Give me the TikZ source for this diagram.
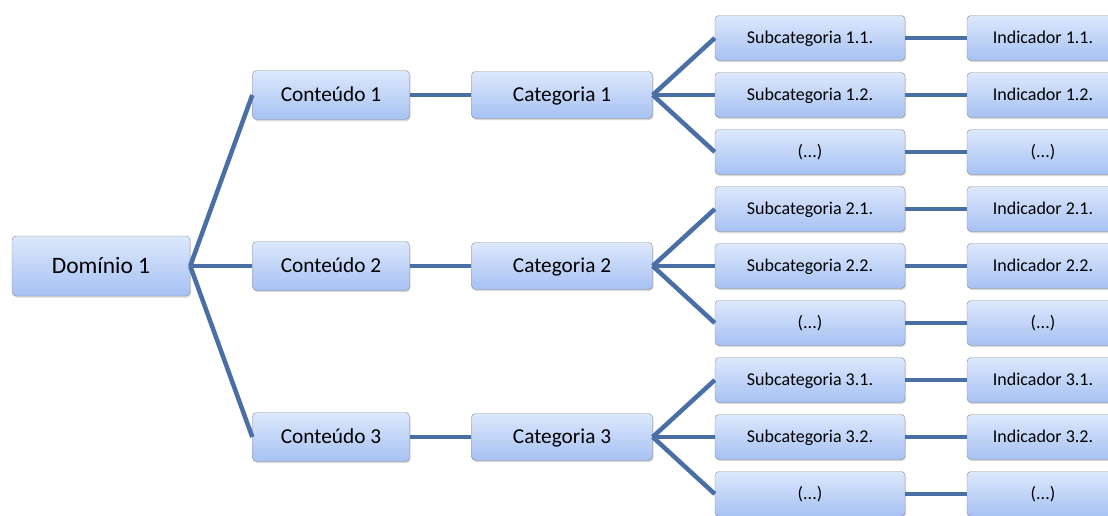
\documentclass[tikz,border=0pt]{standalone}
\usepackage{fontspec}
\setmainfont{Carlito}
\usetikzlibrary{shadows}
\definecolor{boxtop}{HTML}{DDE8FC}
\definecolor{boxbot}{HTML}{A6C1F3}
\definecolor{linkblue}{HTML}{4A6FA5}
\begin{document}
\begin{tikzpicture}[x=1pt,y=-1pt,box/.style={draw=black!45,top color=boxtop,bottom color=boxbot,rounded corners=4pt,inner sep=0pt,text depth=0pt,drop shadow={opacity=.3,shadow xshift=1pt,shadow yshift=-1.5pt}},sbox/.style={box,minimum width=190pt,minimum height=45pt,font=\fontsize{18}{20}\selectfont,text height=11.6pt},mbox/.style={box,minimum height=48pt,font=\fontsize{21.3}{24}\selectfont,text height=13.7pt},a/.style={draw=linkblue,line width=4.5pt}]
\useasboundingbox (0,0) rectangle (1108,515);
\node[box,minimum width=178pt,minimum height=60pt,font=\fontsize{23.5}{26}\selectfont,text height=15pt] (d) at (101,266) {Domínio 1};
\foreach \i/\y in {1/95,2/266,3/437}{
  \node[mbox,minimum width=157pt,minimum height=49pt] (c\i) at (331,\y) {Conteúdo \i};
  \node[mbox,minimum width=181pt,minimum height=47pt] (k\i) at (562,\y) {Categoria \i};
  \draw[a] (d.east)--(c\i.west); \draw[a] (c\i)--(k\i);
  \foreach \j/\dy/\s/\n in {1/-57/{Subcategoria \i.1.}/{Indicador \i.1.},2/0/{Subcategoria \i.2.}/{Indicador \i.2.},3/57/{(...)}/{(...)}}{
    \node[sbox] (s\i\j) at (810,\y+\dy) {\s};
    \node[sbox,minimum width=152pt] (n\i\j) at (1043,\y+\dy) {\n};
    \draw[a] (k\i.east)--(s\i\j.west); \draw[a] (s\i\j)--(n\i\j);
  }
}
\end{tikzpicture}
\end{document}
